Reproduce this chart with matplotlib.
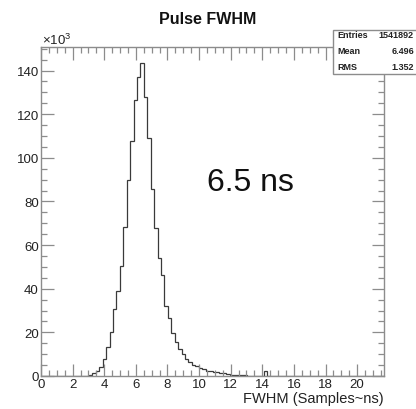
import numpy as np
import matplotlib
matplotlib.use('Agg')
from matplotlib import pyplot as plt
from matplotlib.patches import Rectangle
from matplotlib.ticker import MultipleLocator

plt.rcParams['font.family'] = ['Liberation Sans', 'DejaVu Sans']
plt.rcParams['mathtext.default'] = 'regular'

# histogram: 100 bins from 0 to 21.7, counts in thousands
x_min = 0.0
x_max = 21.7
n_bins = 100
first_bin = 5
counts = [0.1, 0.0, 0.1, 0.0, 0.0, 0.1, 0.0, 0.1,           # bins 5-12
          0.2, 0.6, 1.2, 2.3, 4.2, 8.0, 13.3, 20.2,          # bins 13-20
          30.6, 39.0, 50.5, 68.4, 89.8, 107.6, 126.6, 137.2,  # bins 21-28
          143.6, 128.0, 109.3, 85.6, 67.7, 54.0, 46.3, 32.1,  # bins 29-36
          26.5, 19.6, 15.8, 12.2, 10.0, 8.0, 6.4, 5.2,        # bins 37-44
          4.6, 3.7, 3.0, 2.4, 2.2, 2.0, 1.8, 1.5,             # bins 45-52
          1.2, 0.9, 0.6, 0.5, 0.4, 0.3, 0.3, 0.2,             # bins 53-60
          0.2, 0.2, 0.2, 0.2, 2.4, 0.1, 0.1, 0.05]            # bins 61-68

stats_names = ['Entries', 'Mean', 'RMS']
stats_values = ['1541892', '6.496', '1.352']

values = np.zeros(n_bins)
values[first_bin:first_bin + len(counts)] = counts
edges = np.linspace(x_min, x_max, n_bins + 1)

fig = plt.figure(figsize=(4.16, 4.10), dpi=100)
ax = fig.add_axes([41/416, 1 - 377/410, 343/416, 329/410])

ax.stairs(values, edges, color='#3a3a3a', linewidth=0.9)

ax.set_xlim(x_min, x_max)
ax.set_ylim(0, 150.8)

frame_col = '#8c8c8c'
for s in ax.spines.values():
    s.set_color(frame_col)
    s.set_linewidth(1.0)

ax.xaxis.set_major_locator(MultipleLocator(2))
ax.xaxis.set_minor_locator(MultipleLocator(0.5))
ax.yaxis.set_major_locator(MultipleLocator(20))
ax.yaxis.set_minor_locator(MultipleLocator(5))
ax.tick_params(which='both', direction='in', top=True, right=True, color=frame_col,
               labelcolor='#222222', labelsize=9.5)
ax.tick_params(which='major', length=9, width=0.9)
ax.tick_params(which='minor', length=4.5, width=0.9)
ax.tick_params(axis='x', pad=1.5)
ax.tick_params(axis='y', pad=1.5)

ax.set_xlabel('FWHM (Samples~ns)', fontsize=10.5, color='#222222', loc='right', labelpad=1)

fig.text(0.5, 1 - 20/410, 'Pulse FWHM', ha='center', va='center',
         fontsize=11.5, fontweight='bold', color='#111111')
fig.text(42/416, 1 - 40/410, r'×10$^{3}$', ha='left', va='center',
         fontsize=9.5, color='#222222')

ax.text(10.5, 89, '6.5 ns', ha='left', va='center', fontsize=23, color='#111111')

# stats box
fig.patches.append(Rectangle((333/416, 1 - 75/410), 90/416, 44/410,
                             transform=fig.transFigure, facecolor='white',
                             edgecolor=frame_col, linewidth=1.0, zorder=5))
for i, (name, val) in enumerate(zip(stats_names, stats_values)):
    yy = 1 - (35 + i * 16) / 410
    fig.text(337/416, yy, name, ha='left', va='center', fontsize=6.5,
             fontweight='bold', color='#222222', zorder=6)
    fig.text(414/416, yy, val, ha='right', va='center', fontsize=6.5,
             fontweight='bold', color='#222222', zorder=6)

fig.savefig('out.png', dpi=100)
